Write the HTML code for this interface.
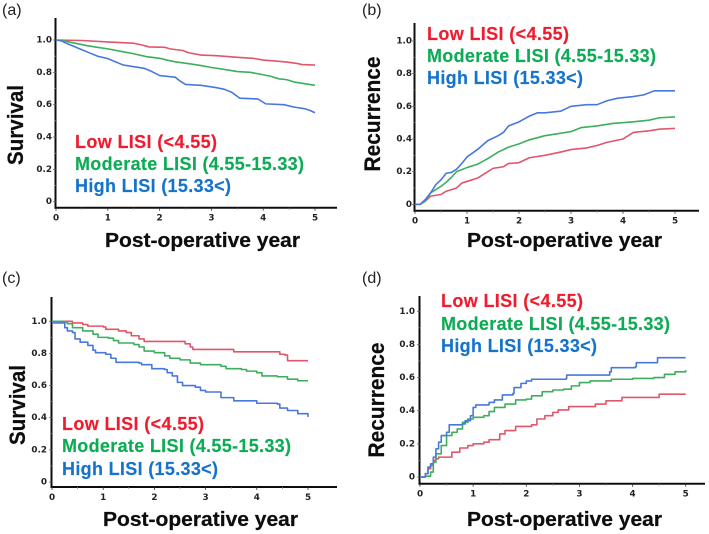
<!DOCTYPE html>
<html lang="en">
<head>
<meta charset="utf-8">
<title>Survival and recurrence by LISI group</title>
<style>
html,body{margin:0;padding:0;background:#fff;width:709px;height:534px;overflow:hidden}
svg{display:block}
.panel-label{font:16px "Liberation Sans",sans-serif;fill:#222}
.axis-title{font:bold 20.5px "Liberation Sans",sans-serif;fill:#111;stroke:#111;stroke-width:.25}
.y-title{font:bold 22px "Liberation Sans",sans-serif;fill:#111;stroke:#111;stroke-width:.25}
.legend{font:bold 18px "Liberation Sans",sans-serif;stroke-width:.15}
.tick{font:bold 8.8px "DejaVu Sans",sans-serif;fill:#222}
.low{fill:#ee1c2e;stroke:#ee1c2e}.mod{fill:#0fab55;stroke:#0fab55}.high{fill:#1473cc;stroke:#1473cc}
</style>
</head>
<body>
<svg id="figure" width="709" height="534" viewBox="0 0 709 534" xmlns="http://www.w3.org/2000/svg">
<defs><filter id="soft" x="-2%" y="-2%" width="104%" height="104%"><feGaussianBlur stdDeviation="0.3"/></filter></defs>
<g filter="url(#soft)">
<g id="panel-a">
<text class="panel-label" x="2" y="15">(a)</text>
<text class="y-title" transform="translate(23,125) rotate(-90)" text-anchor="middle" textLength="80" lengthAdjust="spacingAndGlyphs">Survival</text>
<text class="axis-title" x="105" y="247" textLength="195" lengthAdjust="spacingAndGlyphs">Post-operative year</text>
<text class="legend low" x="75" y="148" textLength="142" lengthAdjust="spacing">Low LISI (&lt;4.55)</text>
<text class="legend mod" x="75" y="170" textLength="229" lengthAdjust="spacing">Moderate LISI (4.55-15.33)</text>
<text class="legend high" x="75" y="192" textLength="156" lengthAdjust="spacing">High LISI (15.33&lt;)</text>
</g>
<g id="panel-b">
<text class="panel-label" x="362" y="15">(b)</text>
<text class="y-title" transform="translate(380,114) rotate(-90)" text-anchor="middle" textLength="115" lengthAdjust="spacingAndGlyphs">Recurrence</text>
<text class="axis-title" x="467" y="247" textLength="195" lengthAdjust="spacingAndGlyphs">Post-operative year</text>
<text class="legend low" x="427" y="40" textLength="142" lengthAdjust="spacing">Low LISI (&lt;4.55)</text>
<text class="legend mod" x="427" y="62" textLength="229" lengthAdjust="spacing">Moderate LISI (4.55-15.33)</text>
<text class="legend high" x="427" y="84" textLength="156" lengthAdjust="spacing">High LISI (15.33&lt;)</text>
</g>
<g id="panel-c">
<text class="panel-label" x="2" y="283">(c)</text>
<text class="y-title" transform="translate(25,405) rotate(-90)" text-anchor="middle" textLength="80" lengthAdjust="spacingAndGlyphs">Survival</text>
<text class="axis-title" x="103" y="526" textLength="195" lengthAdjust="spacingAndGlyphs">Post-operative year</text>
<text class="legend low" x="62" y="430" textLength="142" lengthAdjust="spacing">Low LISI (&lt;4.55)</text>
<text class="legend mod" x="62" y="452" textLength="229" lengthAdjust="spacing">Moderate LISI (4.55-15.33)</text>
<text class="legend high" x="62" y="475" textLength="156" lengthAdjust="spacing">High LISI (15.33&lt;)</text>
</g>
<g id="panel-d">
<text class="panel-label" x="362" y="283">(d)</text>
<text class="y-title" transform="translate(384,400) rotate(-90)" text-anchor="middle" textLength="115" lengthAdjust="spacingAndGlyphs">Recurrence</text>
<text class="axis-title" x="467" y="526" textLength="195" lengthAdjust="spacingAndGlyphs">Post-operative year</text>
<text class="legend low" x="441" y="307" textLength="142" lengthAdjust="spacing">Low LISI (&lt;4.55)</text>
<text class="legend mod" x="441" y="330" textLength="229" lengthAdjust="spacing">Moderate LISI (4.55-15.33)</text>
<text class="legend high" x="441" y="352" textLength="156" lengthAdjust="spacing">High LISI (15.33&lt;)</text>
</g>
</g>
</svg>
<script>
const xTickLabels = ['0','1','2','3','4','5'];
const yTickLabels = ['0','0.2','0.4','0.6','0.8','1.0'];
const xTickValues = [0,1,2,3,4,5];
const yTickValues = [0,0.2,0.4,0.6,0.8,1];

const aLowYears = [0,0.5,1,1.5,1.65,1.8,2.1,2.2,2.45,2.55,2.8,3.1,3.5,3.8,4,4.3,4.5,4.65,4.75,5];
const aLowValues = [1,0.997,0.988,0.98,0.97,0.957,0.955,0.945,0.935,0.922,0.907,0.903,0.893,0.887,0.876,0.868,0.862,0.855,0.848,0.845];
const aModYears = [0,0.15,0.3,0.45,0.6,0.8,1,1.25,1.5,1.75,2,2.15,2.3,2.6,2.8,3,3.25,3.5,3.75,4,4.15,4.3,4.45,4.6,4.8,5];
const aModValues = [1,0.995,0.985,0.975,0.965,0.955,0.945,0.93,0.915,0.897,0.887,0.875,0.865,0.852,0.842,0.83,0.818,0.805,0.8,0.785,0.775,0.76,0.755,0.74,0.73,0.72];
const aHighYears = [0,0.1,0.2,0.35,0.5,0.65,0.8,1,1.15,1.3,1.5,1.7,1.85,2,2.3,2.4,2.5,2.8,3.1,3.25,3.4,3.55,3.9,4.05,4.4,4.6,4.8,4.9,5];
const aHighValues = [1,0.995,0.98,0.96,0.94,0.92,0.9,0.885,0.865,0.845,0.835,0.825,0.805,0.78,0.77,0.745,0.725,0.72,0.705,0.695,0.675,0.64,0.635,0.605,0.6,0.585,0.575,0.565,0.55];

const bLowYears = [0,0.1,0.2,0.3,0.5,0.6,0.8,0.9,1,1.2,1.4,1.5,1.7,1.8,2,2.2,2.5,2.8,3,3.3,3.5,3.7,4,4.2,4.5,4.7,5];
const bLowValues = [0,0,0.02,0.05,0.06,0.08,0.1,0.13,0.14,0.16,0.2,0.22,0.23,0.25,0.255,0.285,0.3,0.32,0.335,0.345,0.36,0.38,0.4,0.44,0.45,0.46,0.465];
const bModYears = [0,0.1,0.2,0.3,0.4,0.5,0.6,0.7,0.8,1,1.2,1.4,1.6,1.8,2,2.2,2.5,2.7,3,3.2,3.5,3.8,4.2,4.5,4.7,5];
const bModValues = [0,0,0.02,0.07,0.09,0.11,0.135,0.165,0.2,0.225,0.245,0.28,0.32,0.35,0.37,0.395,0.42,0.43,0.445,0.47,0.48,0.495,0.505,0.515,0.53,0.535];
const bHighYears = [0,0.1,0.2,0.3,0.4,0.5,0.6,0.7,0.8,0.9,1,1.2,1.4,1.6,1.7,1.8,2,2.2,2.35,2.5,2.8,3,3.3,3.5,3.7,3.9,4.2,4.4,4.6,5];
const bHighValues = [0,0,0.03,0.07,0.12,0.15,0.19,0.195,0.215,0.25,0.29,0.335,0.39,0.42,0.44,0.48,0.505,0.54,0.56,0.56,0.57,0.6,0.61,0.61,0.635,0.65,0.66,0.67,0.695,0.695];

const cLowYears = [0,0.4,0.6,0.7,1,1.05,1.3,1.45,1.55,1.7,1.8,2.4,2.6,2.7,2.75,3.5,3.55,4.4,4.45,4.55,4.6,5];
const cLowValues = [1,0.99,0.98,0.97,0.965,0.95,0.94,0.93,0.91,0.89,0.875,0.875,0.86,0.84,0.825,0.825,0.81,0.81,0.795,0.79,0.755,0.755];
const cModYears = [0,0.2,0.3,0.4,0.6,0.8,0.9,1.1,1.2,1.3,1.6,1.7,1.8,2,2.2,2.3,2.5,2.7,2.9,3.3,3.4,3.7,3.8,4,4.1,4.4,4.6,4.8,5];
const cModValues = [1,0.995,0.985,0.96,0.94,0.92,0.9,0.895,0.88,0.865,0.855,0.84,0.815,0.805,0.785,0.77,0.76,0.74,0.73,0.72,0.705,0.7,0.69,0.68,0.66,0.655,0.64,0.63,0.63];
const cHighYears = [0,0.2,0.25,0.3,0.4,0.45,0.55,0.7,0.8,0.85,1.05,1.15,1.25,1.7,1.75,1.9,1.95,2.2,2.25,2.35,2.45,2.55,2.8,2.9,3,3.3,3.55,4,4.4,4.45,4.6,4.8,5];
const cHighValues = [0.99,0.99,0.96,0.94,0.93,0.89,0.87,0.85,0.82,0.805,0.795,0.77,0.745,0.74,0.73,0.73,0.705,0.7,0.68,0.66,0.62,0.6,0.59,0.57,0.56,0.525,0.505,0.49,0.485,0.46,0.445,0.425,0.405];

const dLowYears = [0,0.1,0.15,0.2,0.25,0.3,0.35,0.6,0.75,0.9,1,1.2,1.3,1.5,1.6,1.8,2.1,2.2,2.35,2.5,2.6,2.8,3.2,3.3,3.5,3.8,4.45,4.5,5];
const dLowValues = [0,0.02,0.05,0.07,0.1,0.11,0.12,0.15,0.175,0.19,0.2,0.21,0.225,0.26,0.28,0.305,0.315,0.35,0.37,0.39,0.405,0.425,0.425,0.44,0.46,0.48,0.48,0.5,0.5];
const dModYears = [0,0.1,0.2,0.25,0.3,0.4,0.5,0.6,0.7,0.8,0.9,1,1.2,1.3,1.4,1.6,1.8,2,2.1,2.3,2.5,2.7,2.85,3,3.2,3.6,4,4.4,4.6,4.8,5];
const dModValues = [0,0.005,0.03,0.09,0.14,0.19,0.25,0.27,0.29,0.33,0.35,0.36,0.37,0.395,0.42,0.44,0.465,0.47,0.49,0.515,0.525,0.53,0.55,0.57,0.58,0.59,0.595,0.6,0.62,0.635,0.645];
const dHighYears = [0,0.1,0.15,0.2,0.25,0.3,0.35,0.4,0.5,0.55,0.8,0.85,0.95,1,1.05,1.3,1.4,1.55,1.75,1.77,1.9,2,2.1,2.75,2.76,3.55,3.57,3.6,4.05,4.07,4.45,4.47,5];
const dHighValues = [0,0.02,0.06,0.08,0.12,0.17,0.21,0.25,0.27,0.315,0.32,0.34,0.37,0.42,0.435,0.45,0.465,0.495,0.505,0.54,0.565,0.58,0.59,0.595,0.615,0.615,0.635,0.66,0.665,0.69,0.69,0.72,0.72];

const SVGNS = 'http://www.w3.org/2000/svg';

function makeEl(tag, attrs, parent) {
  const el = document.createElementNS(SVGNS, tag);
  for (const k in attrs) el.setAttribute(k, attrs[k]);
  parent.appendChild(el);
  return el;
}

function drawPanel(id, g, series) {
  const root = document.getElementById(id);
  const scaleX = t => g.x0 + (g.x5 - g.x0) * t / 5;
  const scaleY = v => g.y0 + (g.y1 - g.y0) * v;

  const yAxis = makeEl('line', {x1: g.x0 - 0.5, x2: g.x0 - 0.5, y1: g.top, y2: g.axisY + 1, stroke: '#111', 'stroke-width': 2}, root);
  
  
  const xAxis = makeEl('line', {x1: g.x0 - 1.5, x2: g.right, y1: g.axisY, y2: g.axisY, stroke: '#111', 'stroke-width': 2}, root);
  
  

  xTickValues.forEach((t, i) => {
    const tickLabel = makeEl('text', {class: 'tick', x: scaleX(t), y: g.axisY + 13, 'text-anchor': 'middle'}, root);
    tickLabel.textContent = xTickLabels[i];
    
    
    const mark = makeEl('line', {x1: scaleX(t), x2: scaleX(t), y1: g.axisY, y2: g.axisY + 3, stroke: '#333', 'stroke-width': 0.8}, root);
    
    
    if (t < 5) {
      const minor = makeEl('line', {x1: scaleX(t + 0.5), x2: scaleX(t + 0.5), y1: g.axisY, y2: g.axisY + 2, stroke: '#888', 'stroke-width': 0.7}, root);
      
      
    }
  });

  yTickValues.forEach((v, i) => {
    const tickLabel = makeEl('text', {class: 'tick', x: g.x0 - g.labelGap, y: scaleY(v) + 2.5, 'text-anchor': 'end'}, root);
    tickLabel.textContent = yTickLabels[i];
    
    
    const mark = makeEl('line', {x1: g.x0 - 3, x2: g.x0, y1: scaleY(v), y2: scaleY(v), stroke: '#555', 'stroke-width': 0.7}, root);
    
    
    if (v < 1) {
      const minor = makeEl('line', {x1: g.x0 - 2, x2: g.x0, y1: scaleY(v + 0.1), y2: scaleY(v + 0.1), stroke: '#999', 'stroke-width': 0.6}, root);
      
      
    }
  });

  series.forEach(s => {
    let d = 'M' + scaleX(s.years[0]).toFixed(2) + ' ' + scaleY(s.values[0]).toFixed(2);
    for (let i = 1; i < s.years.length; i++) {
      if (g.stepped) {
        d += 'H' + scaleX(s.years[i]).toFixed(2) + 'V' + scaleY(s.values[i]).toFixed(2);
      } else {
        d += 'L' + scaleX(s.years[i]).toFixed(2) + ' ' + scaleY(s.values[i]).toFixed(2);
      }
    }
    const path = makeEl('path', {d: d, fill: 'none', stroke: s.color, 'stroke-width': 1.6, 'stroke-linejoin': 'round'}, root);
    
    
  });
}

const RED = '#e0566a', GREEN = '#3daf5c', BLUE = '#4a78dc';

drawPanel('panel-a', {stepped: false, x0: 56, x5: 315, y0: 201.7, y1: 40, axisY: 207.7, right: 337, top: 18, labelGap: 4}, [
  {name: 'low-lisi-curve', years: aLowYears, values: aLowValues, color: RED},
  {name: 'moderate-lisi-curve', years: aModYears, values: aModValues, color: GREEN},
  {name: 'high-lisi-curve', years: aHighYears, values: aHighValues, color: BLUE}
]);
drawPanel('panel-b', {stepped: false, x0: 415, x5: 675, y0: 204.3, y1: 41, axisY: 210.7, right: 699, top: 23, labelGap: 3}, [
  {name: 'low-lisi-curve', years: bLowYears, values: bLowValues, color: RED},
  {name: 'moderate-lisi-curve', years: bModYears, values: bModValues, color: GREEN},
  {name: 'high-lisi-curve', years: bHighYears, values: bHighValues, color: BLUE}
]);
drawPanel('panel-c', {stepped: true, x0: 52, x5: 308, y0: 482, y1: 321.3, axisY: 487, right: 337, top: 297, labelGap: 5}, [
  {name: 'low-lisi-curve', years: cLowYears, values: cLowValues, color: RED},
  {name: 'moderate-lisi-curve', years: cModYears, values: cModValues, color: GREEN},
  {name: 'high-lisi-curve', years: cHighYears, values: cHighValues, color: BLUE}
]);
drawPanel('panel-d', {stepped: true, x0: 420, x5: 685.7, y0: 477, y1: 311.3, axisY: 483.7, right: 705, top: 296, labelGap: 5}, [
  {name: 'low-lisi-curve', years: dLowYears, values: dLowValues, color: RED},
  {name: 'moderate-lisi-curve', years: dModYears, values: dModValues, color: GREEN},
  {name: 'high-lisi-curve', years: dHighYears, values: dHighValues, color: BLUE}
]);
</script>
</body>
</html>
